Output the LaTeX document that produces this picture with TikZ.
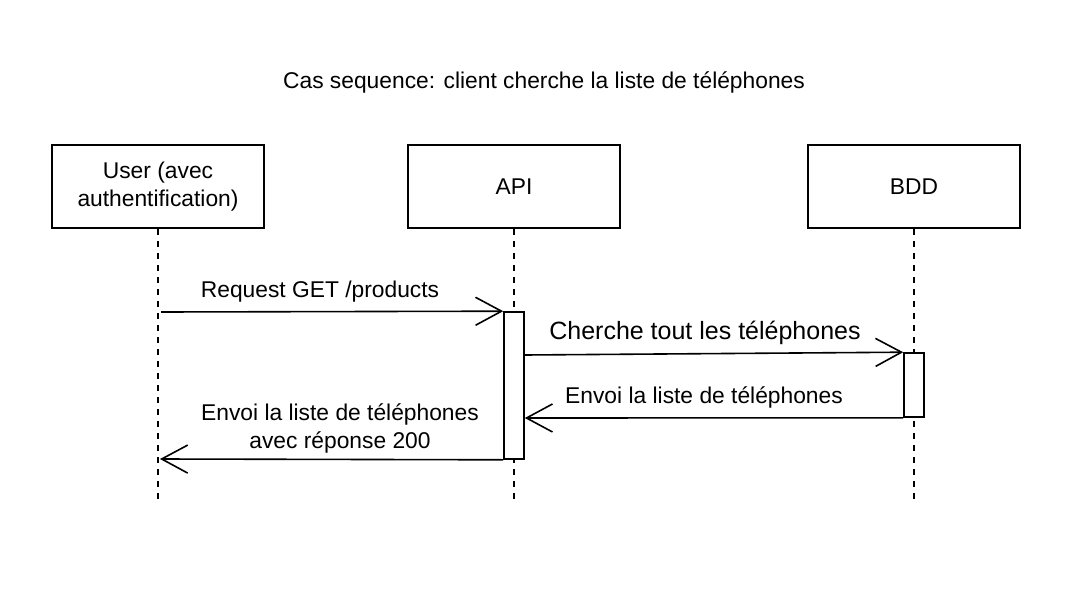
\documentclass[tikz,border=0pt]{standalone}
\usepackage{fontspec}
\setmainfont{Liberation Sans}
\usetikzlibrary{arrows.meta}
\begin{document}
\begin{tikzpicture}[x=1pt,y=-1pt,
  actor/.style={draw,line width=1.6pt,minimum width=212pt,minimum height=83pt,align=center,font=\fontsize{22.8}{28}\selectfont,inner sep=0pt},
  lifeline/.style={line width=1.5pt,dash pattern=on 6pt off 6pt},
  activ/.style={draw,line width=1.6pt,fill=white},
  msg/.style={line width=1.6pt,-{Straight Barb[length=26pt,width=28pt]}},
  lbl/.style={font=\fontsize{22.8}{28}\selectfont,align=center,inner sep=0pt}]
\useasboundingbox (0,0) rectangle (1076,602);
\node[lbl] (title) at (544,82) {Cas sequence: client cherche la liste de téléphones};
\node[actor] (user) at (158,186.5) {User (avec\\authentification)};
\node[actor] (api) at (514,186.5) {API};
\node[actor] (bdd) at (914,186.5) {BDD};
\coordinate (ue) at (158,500);
\coordinate (ae) at (514,500);
\coordinate (be) at (914,500);
\draw[lifeline] (user.south) -- (ue);
\draw[lifeline] (api.south) -- (ae);
\draw[lifeline] (bdd.south) -- (be);
\node[activ,minimum width=20pt,minimum height=147pt,inner sep=0pt] (aact) at (514,385.5) {};
\node[activ,minimum width=20pt,minimum height=64pt,inner sep=0pt] (bact) at (914,385) {};
\coordinate (r1) at (161,312);
\draw[msg] (r1) -- (aact.north west);
\node[lbl] (l1) at (320,292) {Request GET /products};
\draw[msg] (aact.east |- 0,355) -- (bact.north west);
\node[lbl,font=\fontsize{25}{30}\selectfont] (l2) at (705,333) {Cherche tout les téléphones};
\draw[msg] (bact.south west) -- (aact.east |- 0,418);
\node[lbl] (l3) at (704,397) {Envoi la liste de téléphones};
\coordinate (r4) at (160,459);
\draw[msg] (aact.south west) -- (r4);
\node[lbl] (l4) at (340,428) {Envoi la liste de téléphones\\avec réponse 200};
\end{tikzpicture}
\end{document}
